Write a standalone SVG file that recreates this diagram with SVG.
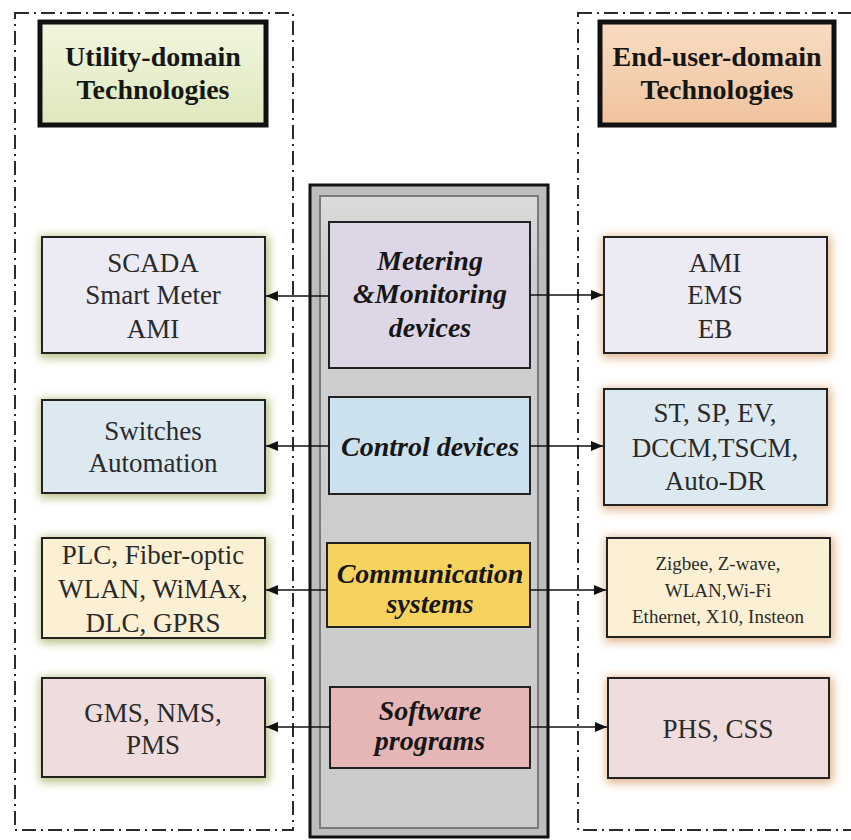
<svg xmlns="http://www.w3.org/2000/svg" width="851" height="840" viewBox="0 0 851 840">
<defs>
<style>
.panel{fill:none;stroke:#2b2b2b;stroke-width:2;stroke-dasharray:14 5 2 5}
.t{font-family:'Liberation Serif','Times New Roman',serif;font-size:18px;fill:#2a2a2a;text-anchor:middle}
.b{font-weight:bold;fill:#161616}
.i{font-weight:bold;font-style:italic;fill:#161616}
.box{stroke:#222;stroke-width:2}
.tb{stroke:#111;stroke-width:5}
.conn{stroke:#111;stroke-width:1.6;fill:none;marker-end:url(#ah)}
</style>
<marker id="ah" viewBox="0 0 12 10" refX="12" refY="5" markerWidth="12" markerHeight="10" markerUnits="userSpaceOnUse" orient="auto-start-reverse">
<path d="M0,0 L12,5 L0,10 z" fill="#111"/>
</marker>
<filter id="gl" x="-20%" y="-30%" width="140%" height="160%">
<feGaussianBlur stdDeviation="5"/>
</filter>
<linearGradient id="gG" x1="0" y1="0" x2="0" y2="1">
<stop offset="0" stop-color="#f2f6df"/><stop offset="1" stop-color="#dfe8bd"/>
</linearGradient>
<linearGradient id="gO" x1="0" y1="0" x2="0" y2="1">
<stop offset="0" stop-color="#f9dcc2"/><stop offset="1" stop-color="#f0c39c"/>
</linearGradient>
<linearGradient id="gC" x1="0" y1="0" x2="0" y2="1">
<stop offset="0" stop-color="#dcdcdc"/><stop offset="0.1" stop-color="#cfcfcf"/><stop offset="1" stop-color="#cbcbcb"/>
</linearGradient>
</defs>

<g id="panels">
<rect class="panel" x="15" y="13" width="278" height="817"/>
<rect class="panel" x="578" y="13" width="290" height="817"/>
</g>

<g id="column">
<rect x="310" y="185" width="238" height="652" fill="#bdbdbd" stroke="#111" stroke-width="3"/>
<rect x="320" y="196" width="218" height="632" fill="url(#gC)" stroke="#7a7a7a" stroke-width="2"/>
</g>

<g id="title-utility">
<rect class="tb" x="40" y="22" width="226" height="103" fill="url(#gG)"/>
<text class="t b" transform="translate(153 66) scale(1.5556)">Utility-domain</text>
<text class="t b" transform="translate(153 99) scale(1.5556)">Technologies</text>
</g>
<g id="title-enduser">
<rect class="tb" x="600" y="22" width="234" height="103" fill="url(#gO)"/>
<text class="t b" transform="translate(717 66) scale(1.5556)">End-user-domain</text>
<text class="t b" transform="translate(717 99) scale(1.5556)">Technologies</text>
</g>

<g id="glows">
<rect x="40" y="236" width="229" height="122" fill="#b7bf80" filter="url(#gl)"/>
<rect x="40" y="399" width="229" height="99" fill="#b7bf80" filter="url(#gl)"/>
<rect x="40" y="537" width="229" height="106" fill="#b7bf80" filter="url(#gl)"/>
<rect x="40" y="677" width="229" height="105" fill="#b7bf80" filter="url(#gl)"/>
<rect x="602" y="236" width="229" height="122" fill="#e2b48a" filter="url(#gl)"/>
<rect x="602" y="388" width="229" height="122" fill="#e2b48a" filter="url(#gl)"/>
<rect x="605" y="537" width="229" height="105" fill="#e2b48a" filter="url(#gl)"/>
<rect x="606" y="677" width="227" height="106" fill="#e2b48a" filter="url(#gl)"/>
</g>

<g id="metering">
<rect class="box" x="329" y="222" width="201" height="146" fill="#ddd6e6"/>
<text class="t i" transform="translate(430 270) scale(1.5556)">Metering</text>
<text class="t i" transform="translate(430 303) scale(1.5556)">&amp;Monitoring</text>
<text class="t i" transform="translate(430 337) scale(1.5556)">devices</text>
</g>
<g id="control">
<rect class="box" x="329" y="397" width="201" height="97" fill="#cbe2ee"/>
<text class="t i" transform="translate(430 456) scale(1.5556)">Control devices</text>
</g>
<g id="communication">
<rect class="box" x="327" y="543" width="203" height="84" fill="#f6d35e"/>
<text class="t i" transform="translate(430 583) scale(1.5556)">Communication</text>
<text class="t i" transform="translate(430 613) scale(1.5556)">systems</text>
</g>
<g id="software">
<rect class="box" x="330" y="687" width="200" height="81" fill="#e6b6b6"/>
<text class="t i" transform="translate(430 720) scale(1.5556)">Software</text>
<text class="t i" transform="translate(430 750) scale(1.5556)">programs</text>
</g>

<g id="u-metering">
<rect class="box" x="42" y="237" width="223" height="116" fill="#ecebf3"/>
<text class="t" transform="translate(153 272) scale(1.5)">SCADA</text>
<text class="t" transform="translate(153 304) scale(1.5)">Smart Meter</text>
<text class="t" transform="translate(153 338) scale(1.5)">AMI</text>
</g>
<g id="u-control">
<rect class="box" x="42" y="400" width="223" height="93" fill="#dde9f0"/>
<text class="t" transform="translate(153 440) scale(1.5)">Switches</text>
<text class="t" transform="translate(153 472) scale(1.5)">Automation</text>
</g>
<g id="u-comm">
<rect class="box" x="42" y="538" width="223" height="100" fill="#fbf0d4"/>
<text class="t" transform="translate(153 564) scale(1.5)">PLC, Fiber-optic</text>
<text class="t" transform="translate(153 598) scale(1.5)">WLAN, WiMAx,</text>
<text class="t" transform="translate(153 632) scale(1.5)">DLC, GPRS</text>
</g>
<g id="u-software">
<rect class="box" x="42" y="678" width="223" height="99" fill="#efdddd"/>
<text class="t" transform="translate(153 722) scale(1.5)">GMS, NMS,</text>
<text class="t" transform="translate(153 754) scale(1.5)">PMS</text>
</g>

<g id="e-metering">
<rect class="box" x="604" y="237" width="223" height="116" fill="#ecebf3"/>
<text class="t" transform="translate(715 272) scale(1.5)">AMI</text>
<text class="t" transform="translate(715 304) scale(1.5)">EMS</text>
<text class="t" transform="translate(715 338) scale(1.5)">EB</text>
</g>
<g id="e-control">
<rect class="box" x="604" y="389" width="223" height="116" fill="#dde9f0"/>
<text class="t" transform="translate(715 422) scale(1.5)">ST, SP, EV,</text>
<text class="t" transform="translate(715 457) scale(1.5)">DCCM,TSCM,</text>
<text class="t" transform="translate(715 490) scale(1.5)">Auto-DR</text>
</g>
<g id="e-comm">
<rect class="box" x="607" y="538" width="223" height="99" fill="#fbf0d4"/>
<text class="t" transform="translate(718 570) scale(1.056)">Zigbee, Z-wave,</text>
<text class="t" transform="translate(718 597) scale(1.056)">WLAN,Wi-Fi</text>
<text class="t" transform="translate(718 623) scale(1.056)">Ethernet, X10, Insteon</text>
</g>
<g id="e-software">
<rect class="box" x="608" y="678" width="221" height="100" fill="#efdddd"/>
<text class="t" transform="translate(718 738) scale(1.5)">PHS, CSS</text>
</g>

<g id="connectors">
<line class="conn" x1="329" y1="296" x2="266" y2="296"/>
<line class="conn" x1="530" y1="295" x2="603" y2="295"/>
<line class="conn" x1="329" y1="446" x2="266" y2="446"/>
<line class="conn" x1="530" y1="446" x2="603" y2="446"/>
<line class="conn" x1="327" y1="590" x2="266" y2="590"/>
<line class="conn" x1="530" y1="590" x2="606" y2="590"/>
<line class="conn" x1="330" y1="727" x2="266" y2="727"/>
<line class="conn" x1="530" y1="727" x2="607" y2="727"/>
</g>
</svg>
